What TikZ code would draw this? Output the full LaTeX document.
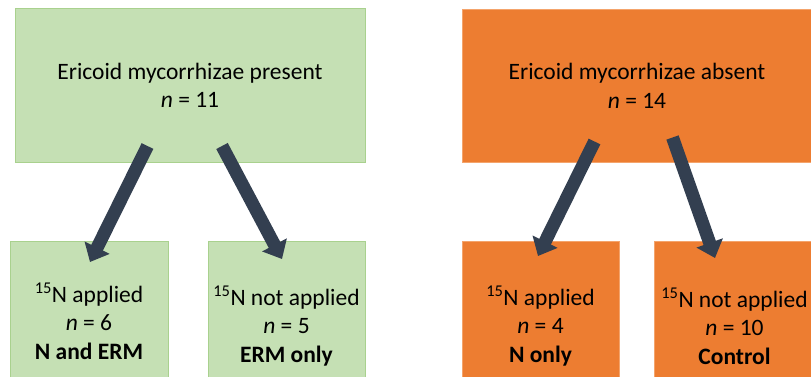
\documentclass[tikz,border=0pt]{standalone}
\usepackage{fontspec}
\setmainfont{Carlito}
\usetikzlibrary{arrows.meta}
\definecolor{boxgreen}{HTML}{C5E0B4}
\definecolor{edgegreen}{HTML}{A9D18E}
\definecolor{boxorange}{HTML}{ED7D31}
\definecolor{edgeorange}{HTML}{F4A46C}
\definecolor{arrowdark}{HTML}{333F50}
\tikzset{
  gbox/.style={fill=boxgreen, draw=edgegreen, line width=0.8pt, align=center, inner sep=0pt, font=\fontsize{23.5}{28.5}\selectfont},
  obox/.style={fill=boxorange, draw=edgeorange, line width=0.8pt, align=center, inner sep=0pt, font=\fontsize{23.5}{28.5}\selectfont},
  bigarrow/.style={draw=arrowdark, line width=13pt, -{Triangle[width=27pt,length=16pt]}, arrowdark}
}
\begin{document}
\begin{tikzpicture}[x=1pt,y=-1pt]
\useasboundingbox (0,0) rectangle (811,376);
\clip (0,0) rectangle (811,376);
\node[gbox, minimum width=350pt, minimum height=154pt] (gtop) at (190,85.5) {Ericoid mycorrhizae present\\\textit{n} = 11};
\node[obox, minimum width=350pt, minimum height=153pt] (otop) at (637,86) {Ericoid mycorrhizae absent\\\textit{n} = 14};
\node[gbox, minimum width=158pt, minimum height=160pt] (gl) at (89,321) {\textsuperscript{15}N applied\\\textit{n} = 6\\\textbf{N and ERM}};
\node[gbox, minimum width=157pt, minimum height=170pt] (gr) at (286.5,326) {\textsuperscript{15}N not applied\\\textit{n} = 5\\\textbf{ERM only}};
\node[obox, minimum width=157pt, minimum height=170pt] (ol) at (540.5,326) {\textsuperscript{15}N applied\\\textit{n} = 4\\\textbf{N only}};
\node[obox, minimum width=161pt, minimum height=170pt] (or) at (734.5,326) {\textsuperscript{15}N not applied\\\textit{n} = 10\\\textbf{Control}};
\coordinate (gls) at (147.5,146);
\coordinate (gle) at (90,262);
\coordinate (grs) at (222,146);
\coordinate (gre) at (282,259);
\coordinate (ols) at (594.5,141.5);
\coordinate (ole) at (538,256);
\coordinate (ors) at (672.5,137.5);
\coordinate (ore) at (715,258);
\draw[bigarrow] (gls) -- (gle);
\draw[bigarrow] (grs) -- (gre);
\draw[bigarrow] (ols) -- (ole);
\draw[bigarrow] (ors) -- (ore);
\end{tikzpicture}
\end{document}
